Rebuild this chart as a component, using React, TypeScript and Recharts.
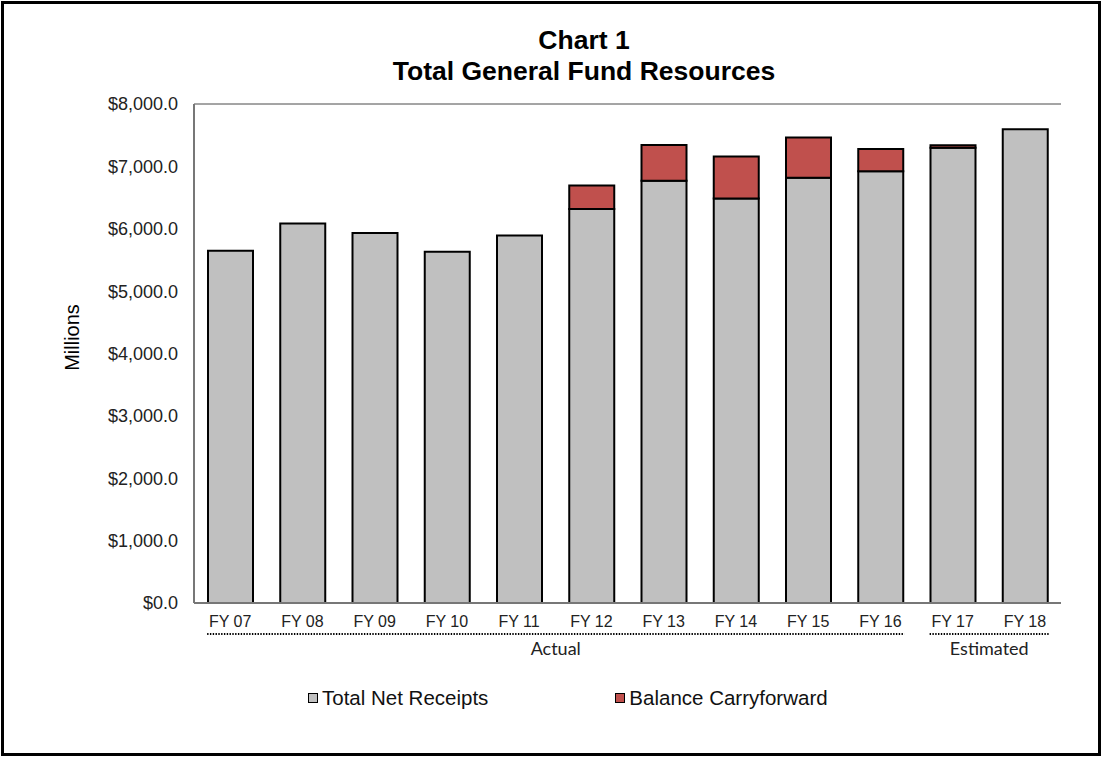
import React from "react";
import { BarChart, Bar, XAxis, YAxis, CartesianGrid, Legend } from "recharts";

const CATEGORIES = ["FY 07", "FY 08", "FY 09", "FY 10", "FY 11", "FY 12", "FY 13", "FY 14", "FY 15", "FY 16", "FY 17", "FY 18"];
const NET_RECEIPTS = [5648, 6085, 5931, 5632, 5893, 6315, 6768, 6485, 6816, 6923, 7300, 7595];
const CARRYFORWARD = [0, 0, 0, 0, 0, 378, 576, 672, 645, 357, 40, 0];
const Y_TICKS = [0, 1000, 2000, 3000, 4000, 5000, 6000, 7000, 8000];
const GROUPS = [
  { label: "Actual", from: "FY 07", to: "FY 16" },
  { label: "Estimated", from: "FY 17", to: "FY 18" },
];

const GRAY = "#C0C0C0";
const RED = "#C0504D";
const ARIAL = "Arial, 'Liberation Sans', sans-serif";

const data = CATEGORIES.map((fy, i) => ({
  fy,
  receipts: NET_RECEIPTS[i],
  carry: CARRYFORWARD[i],
}));

const fmtMoney = (v: number) =>
  "$" + v.toLocaleString("en-US", { minimumFractionDigits: 1, maximumFractionDigits: 1 });

// x tick label, plus the dotted bracket + group name under the first year of each group
function FyTick(props: any) {
  const { x, y, payload } = props;
  const half = payload.offset || 36.1;
  const idx = CATEGORIES.indexOf(payload.value);
  const group = GROUPS.find((g) => CATEGORIES.indexOf(g.from) === idx);
  let extra = null;
  if (group) {
    const span = (CATEGORIES.indexOf(group.to) - idx) * half * 2;
    const x1 = x - 23;
    const x2 = x + span + 24;
    extra = (
      <g>
        <line x1={x1} x2={x2} y1={y + 23} y2={y + 23} stroke="#000" strokeWidth={2} strokeDasharray="1.4 1.4" />
        <text x={(x1 + x2) / 2} y={y + 44} textAnchor="middle" fontFamily="Lato, sans-serif" fontSize={18} fill="#222">
          {group.label}
        </text>
      </g>
    );
  }
  return (
    <g>
      <text x={x} y={y + 16} textAnchor="middle" fontFamily={ARIAL} fontSize={16} fill="#222">
        {payload.value}
      </text>
      {extra}
    </g>
  );
}

function LegendBox() {
  const items = [
    { label: "Total Net Receipts", color: GRAY },
    { label: "Balance Carryforward", color: RED },
  ];
  return (
    <div style={{ display: "flex", height: 24, alignItems: "center", fontFamily: ARIAL, fontSize: 20.5, color: "#111" }}>
      {items.map((it) => (
        <div key={it.label} style={{ display: "flex", alignItems: "center", marginRight: 127 }}>
          <span
            style={{
              display: "inline-block",
              width: 8,
              height: 8,
              background: it.color,
              border: "1.5px solid #000",
              marginRight: 4,
            }}
          />
          <span>{it.label}</span>
        </div>
      ))}
    </div>
  );
}

export default function App() {
  return (
    <div style={{ position: "relative", width: 1104, height: 757, background: "#fff" }}>
      <style>{"body{margin:0}"}</style>
      <div
        style={{
          position: "absolute",
          left: 1,
          top: 1,
          width: 1100,
          height: 755,
          boxSizing: "border-box",
          border: "3px solid #000",
        }}
      />
      <div
        style={{
          position: "absolute",
          left: 0,
          top: 25,
          width: 1168,
          textAlign: "center",
          fontFamily: ARIAL,
          fontWeight: "bold",
          fontSize: 26.5,
          lineHeight: "31px",
          color: "#000",
        }}
      >
        <div>Chart 1</div>
        <div>Total General Fund Resources</div>
      </div>
      <BarChart
        width={1104}
        height={757}
        data={data}
        margin={{ top: 104, right: 43, left: 0, bottom: 70 }}
        barSize={45}
      >
        <CartesianGrid vertical={false} stroke="#4a4a4a" strokeWidth={1} />
        <XAxis
          dataKey="fy"
          height={60}
          tickLine={false}
          axisLine={{ stroke: "#777", strokeWidth: 2 }}
          tick={<FyTick />}
          interval={0}
        />
        <YAxis
          yAxisId="left"
          width={194}
          domain={[0, 8000]}
          ticks={Y_TICKS}
          tickFormatter={fmtMoney}
          tickLine={false}
          tickMargin={10}
          axisLine={{ stroke: "#777", strokeWidth: 2 }}
          tick={{ fontFamily: ARIAL, fontSize: 18, fill: "#222" }}
          label={{
            value: "Millions",
            angle: -90,
            position: "center",
            dx: -25,
            dy: -16,
            style: { fontFamily: ARIAL, fontSize: 20, fill: "#000" },
          }}
        />
        <YAxis
          yAxisId="right"
          orientation="right"
          width={0}
          domain={[0, 8000]}
          tick={false}
          tickLine={false}
          axisLine={{ stroke: "#aaa", strokeWidth: 2 }}
        />
        <Legend
          verticalAlign="bottom"
          content={<LegendBox />}
          wrapperStyle={{ top: 686, left: 308, bottom: "auto", width: 760 }}
        />
        <Bar
          yAxisId="left"
          dataKey="receipts"
          name="Total Net Receipts"
          stackId="a"
          fill={GRAY}
          stroke="#000"
          strokeWidth={2}
          isAnimationActive={false}
        />
        <Bar
          yAxisId="left"
          dataKey="carry"
          name="Balance Carryforward"
          stackId="a"
          fill={RED}
          stroke="#000"
          strokeWidth={2}
          isAnimationActive={false}
        />
      </BarChart>
    </div>
  );
}
